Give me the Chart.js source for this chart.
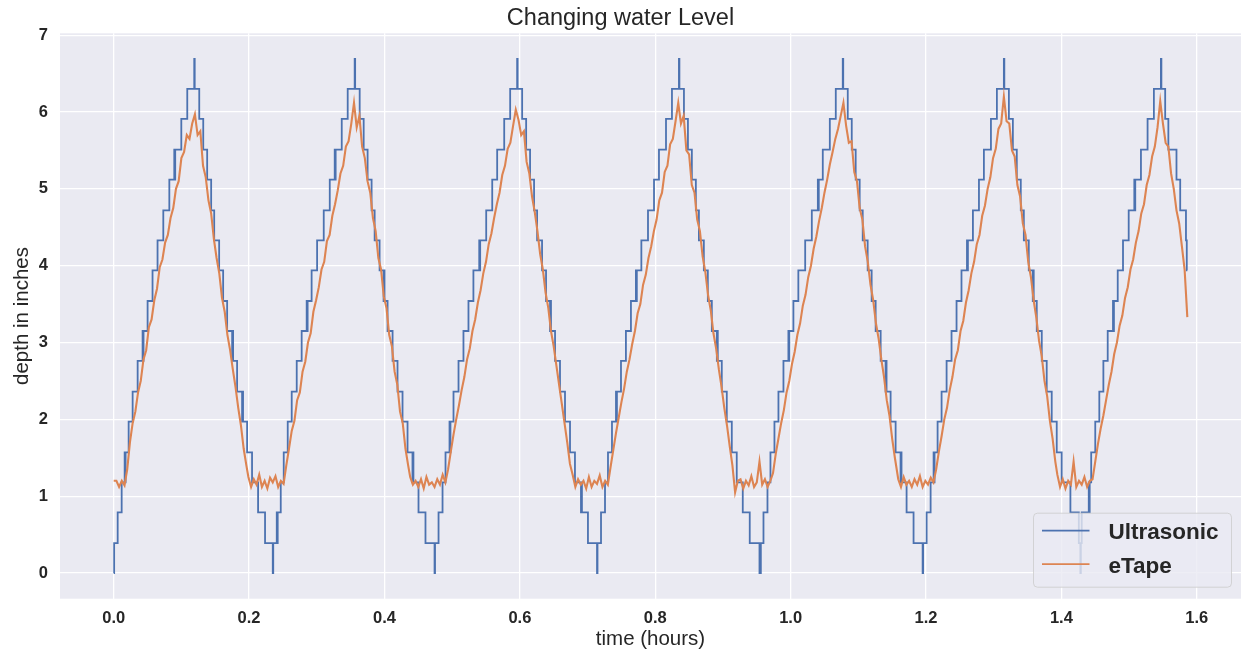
<!DOCTYPE html>
<html><head><meta charset="utf-8">
<script src="https://cdn.jsdelivr.net/npm/chart.js@4.4.0/dist/chart.umd.min.js"></script>
<style>html,body{margin:0;padding:0;background:#fff;}#wrap{width:1241px;height:653px;}</style>
</head><body><div id="wrap"><canvas id="c" width="1241" height="653"></canvas></div>
<script>
const chartTitle = 'Changing water Level';
const xAxisTitle = 'time (hours)';
const yAxisTitle = 'depth in inches';
const seriesNames = ['Ultrasonic', 'eTape'];
const xTickValues = [0.0, 0.2, 0.4, 0.6, 0.8, 1.0, 1.2, 1.4, 1.6];
const yTickValues = [0, 1, 2, 3, 4, 5, 6, 7];

// Ultrasonic readings: [time (h), depth (in)] — value holds until next reading
const ultrasonicCycle1 = [[0.0000,0],[0.0007,0.39],[0.0059,0.79],[0.0118,1.18],[0.0162,1.57],[0.0169,1.18],[0.0176,1.57],[0.0221,1.97],[0.0280,2.36],[0.0354,2.76],[0.0427,3.15],[0.0434,2.76],[0.0441,3.15],[0.0501,3.54],[0.0574,3.94],[0.0648,4.33],[0.0733,4.72],[0.0822,5.12],[0.0895,5.51],[0.0902,5.12],[0.0909,5.51],[0.0999,5.91],[0.1087,6.30],[0.1190,6.69],[0.1197,6.30],[0.1264,5.91],[0.1323,5.51],[0.1381,5.12],[0.1440,4.72],[0.1485,4.33],[0.1558,3.94],[0.1617,3.54],[0.1676,3.15],[0.1750,2.76],[0.1757,3.15],[0.1764,2.76],[0.1823,2.36],[0.1897,1.97],[0.1904,2.36],[0.1911,1.97],[0.1971,1.57],[0.2044,1.18],[0.2133,0.79],[0.2236,0.39]];
const ultrasonicCycle2 = [[0.2350,0],[0.2357,0.39],[0.2409,0.79],[0.2416,0.39],[0.2423,0.79],[0.2468,1.18],[0.2512,1.57],[0.2571,1.97],[0.2630,2.36],[0.2704,2.76],[0.2777,3.15],[0.2851,3.54],[0.2858,3.15],[0.2865,3.54],[0.2924,3.94],[0.3005,4.33],[0.3103,4.72],[0.3192,5.12],[0.3265,5.51],[0.3272,5.12],[0.3279,5.51],[0.3369,5.91],[0.3457,6.30],[0.3560,6.69],[0.3567,6.30],[0.3634,5.91],[0.3693,5.51],[0.3751,5.12],[0.3810,4.72],[0.3855,4.33],[0.3928,3.94],[0.3987,3.54],[0.3994,3.94],[0.4001,3.54],[0.4046,3.15],[0.4120,2.76],[0.4193,2.36],[0.4267,1.97],[0.4341,1.57],[0.4414,1.18],[0.4421,1.57],[0.4428,1.18],[0.4503,0.79],[0.4606,0.39]];
const ultrasonicCycle3 = [[0.4740,0],[0.4747,0.39],[0.4799,0.79],[0.4858,1.18],[0.4902,1.57],[0.4961,1.97],[0.4968,1.57],[0.4975,1.97],[0.5020,2.36],[0.5094,2.76],[0.5167,3.15],[0.5241,3.54],[0.5314,3.94],[0.5400,4.33],[0.5407,3.94],[0.5414,4.33],[0.5503,4.72],[0.5592,5.12],[0.5665,5.51],[0.5769,5.91],[0.5857,6.30],[0.5960,6.69],[0.5967,6.30],[0.6034,5.91],[0.6093,5.51],[0.6151,5.12],[0.6210,4.72],[0.6255,4.33],[0.6328,3.94],[0.6387,3.54],[0.6446,3.15],[0.6453,3.54],[0.6460,3.15],[0.6520,2.76],[0.6593,2.36],[0.6667,1.97],[0.6741,1.57],[0.6814,1.18],[0.6903,0.79],[0.6910,1.18],[0.6917,0.79],[0.7006,0.39]];
const ultrasonicCycle4 = [[0.7140,0],[0.7147,0.39],[0.7199,0.79],[0.7258,1.18],[0.7302,1.57],[0.7361,1.97],[0.7420,2.36],[0.7427,1.97],[0.7434,2.36],[0.7494,2.76],[0.7567,3.15],[0.7641,3.54],[0.7714,3.94],[0.7721,3.54],[0.7728,3.94],[0.7795,4.33],[0.7893,4.72],[0.7982,5.12],[0.8055,5.51],[0.8159,5.91],[0.8247,6.30],[0.8350,6.69],[0.8357,6.30],[0.8424,5.91],[0.8483,5.51],[0.8541,5.12],[0.8600,4.72],[0.8645,4.33],[0.8718,3.94],[0.8777,3.54],[0.8836,3.15],[0.8910,2.76],[0.8917,3.15],[0.8924,2.76],[0.8983,2.36],[0.9057,1.97],[0.9131,1.57],[0.9204,1.18],[0.9293,0.79],[0.9396,0.39]];
const ultrasonicCycle5 = [[0.9540,0],[0.9547,0.39],[0.9553,0],[0.9560,0.39],[0.9599,0.79],[0.9658,1.18],[0.9702,1.57],[0.9761,1.97],[0.9820,2.36],[0.9894,2.76],[0.9967,3.15],[0.9974,2.76],[0.9981,3.15],[1.0041,3.54],[1.0114,3.94],[1.0215,4.33],[1.0313,4.72],[1.0402,5.12],[1.0409,4.72],[1.0416,5.12],[1.0475,5.51],[1.0579,5.91],[1.0667,6.30],[1.0770,6.69],[1.0777,6.30],[1.0844,5.91],[1.0903,5.51],[1.0961,5.12],[1.1020,4.72],[1.1065,4.33],[1.1138,3.94],[1.1197,3.54],[1.1256,3.15],[1.1330,2.76],[1.1403,2.36],[1.1410,2.76],[1.1417,2.36],[1.1477,1.97],[1.1551,1.57],[1.1624,1.18],[1.1631,1.57],[1.1638,1.18],[1.1713,0.79],[1.1816,0.39]];
const ultrasonicCycle6 = [[1.1950,0],[1.1957,0.39],[1.2009,0.79],[1.2068,1.18],[1.2112,1.57],[1.2119,1.18],[1.2126,1.57],[1.2171,1.97],[1.2230,2.36],[1.2304,2.76],[1.2377,3.15],[1.2451,3.54],[1.2524,3.94],[1.2605,4.33],[1.2612,3.94],[1.2619,4.33],[1.2693,4.72],[1.2782,5.12],[1.2855,5.51],[1.2959,5.91],[1.3047,6.30],[1.3150,6.69],[1.3157,6.30],[1.3224,5.91],[1.3283,5.51],[1.3341,5.12],[1.3400,4.72],[1.3445,4.33],[1.3518,3.94],[1.3577,3.54],[1.3584,3.94],[1.3591,3.54],[1.3636,3.15],[1.3710,2.76],[1.3783,2.36],[1.3857,1.97],[1.3931,1.57],[1.4004,1.18],[1.4133,0.79],[1.4257,0.39]];
const ultrasonicCycle7 = [[1.4280,0],[1.4287,0.39],[1.4300,0.79],[1.4404,1.18],[1.4411,0.79],[1.4418,1.18],[1.4440,1.57],[1.4500,1.97],[1.4560,2.36],[1.4620,2.76],[1.4684,3.15],[1.4762,3.54],[1.4769,3.15],[1.4776,3.54],[1.4832,3.94],[1.4910,4.33],[1.4994,4.72],[1.5077,5.12],[1.5084,4.72],[1.5091,5.12],[1.5175,5.51],[1.5273,5.91],[1.5366,6.30],[1.5470,6.69],[1.5477,6.30],[1.5533,5.91],[1.5580,5.51],[1.5700,5.12],[1.5755,4.72],[1.5840,4.33],[1.5852,3.94],[1.5860,3.94]];

// eTape readings: one reading every eTapeSampleStep hours from each segment start
const eTapeSampleStep = 0.004;
const eTapeSegmentStart = [0.000, 0.199, 0.438, 0.678, 0.918, 1.159, 1.394];
const eTapeSegment1 = [1.20,1.20,1.12,1.20,1.14,1.35,1.70,1.95,2.10,2.35,2.50,2.78,2.90,3.20,3.30,3.55,3.70,3.98,4.08,4.30,4.40,4.62,4.75,5.00,5.10,5.40,5.48,5.70,5.65,5.85,5.97,5.70,5.75,5.30,5.15,4.85,4.68,4.35,4.10,3.90,3.58,3.40,3.10,2.90,2.65,2.42,2.15,1.92,1.62,1.40];
const eTapeSegment2 = [1.25,1.12,1.22,1.15,1.28,1.12,1.20,1.10,1.24,1.18,1.26,1.12,1.20,1.16,1.40,1.62,1.85,1.98,2.25,2.35,2.62,2.75,3.00,3.12,3.40,3.55,3.72,3.95,4.05,4.32,4.40,4.65,4.80,4.98,5.20,5.30,5.55,5.62,5.85,6.12,5.80,5.95,5.55,5.40,5.10,4.95,4.62,4.45,4.10,3.95,3.60,3.45,3.10,2.95,2.62,2.45,2.10,1.95,1.62,1.40];
const eTapeSegment3 = [1.25,1.15,1.20,1.12,1.22,1.10,1.25,1.15,1.18,1.12,1.22,1.15,1.28,1.18,1.35,1.58,1.80,2.00,2.18,2.38,2.55,2.78,2.92,3.15,3.30,3.52,3.68,3.90,4.05,4.28,4.42,4.62,4.80,4.95,5.18,5.30,5.52,5.60,5.82,6.03,5.90,5.70,5.75,5.35,5.20,4.90,4.70,4.45,4.15,3.95,3.65,3.45,3.15,2.95,2.70,2.45,2.20,1.95,1.70,1.42];
const eTapeSegment4 = [1.28,1.12,1.22,1.15,1.20,1.10,1.25,1.12,1.20,1.16,1.27,1.12,1.20,1.15,1.38,1.60,1.82,2.02,2.22,2.40,2.62,2.78,2.98,3.15,3.38,3.50,3.75,3.88,4.10,4.25,4.45,4.60,4.85,4.95,5.22,5.30,5.58,5.65,5.88,6.12,5.85,5.95,5.50,5.45,5.05,4.95,4.60,4.45,4.12,3.92,3.62,3.42,3.12,2.92,2.65,2.42,2.15,1.92,1.65,1.40];
const eTapeSegment5 = [1.05,1.20,1.22,1.10,1.20,1.14,1.26,1.12,1.18,1.45,1.15,1.22,1.12,1.20,1.30,1.55,1.75,1.95,2.12,2.35,2.50,2.72,2.88,3.10,3.25,3.48,3.62,3.85,4.00,4.22,4.38,4.58,4.75,4.95,5.12,5.32,5.48,5.65,5.78,5.95,6.12,5.82,5.60,5.62,5.22,5.10,4.75,4.60,4.25,4.05,3.75,3.55,3.25,3.05,2.78,2.55,2.25,2.05,1.75,1.50];
const eTapeSegment6 = [1.22,1.12,1.25,1.15,1.20,1.12,1.22,1.15,1.26,1.12,1.20,1.15,1.24,1.18,1.35,1.58,1.78,2.00,2.15,2.38,2.55,2.78,2.90,3.15,3.28,3.52,3.68,3.90,4.05,4.28,4.40,4.65,4.78,5.00,5.15,5.40,5.52,5.78,5.85,6.20,5.88,5.85,5.50,5.42,5.05,4.90,4.55,4.40,4.05,3.85,3.55,3.32,3.02,2.82,2.50,2.30,1.98,1.75,1.45];
const eTapeSegment7 = [1.28,1.12,1.22,1.10,1.20,1.15,1.45,1.12,1.20,1.15,1.25,1.12,1.20,1.22,1.45,1.68,1.88,2.05,2.25,2.45,2.62,2.85,3.00,3.22,3.35,3.58,3.72,3.95,4.08,4.30,4.45,4.68,4.80,5.05,5.18,5.42,5.55,5.80,6.14,5.85,5.60,5.55,5.20,5.00,4.72,4.55,4.25,3.95,3.33];

const seriesColors = {Ultrasonic: '#4C72B0', eTape: '#DD8452'};

const ultrasonicPoints = [ultrasonicCycle1, ultrasonicCycle2, ultrasonicCycle3, ultrasonicCycle4, ultrasonicCycle5, ultrasonicCycle6, ultrasonicCycle7]
  .flat().map(([t, d]) => ({x: t, y: d}));
const eTapeSegments = [eTapeSegment1, eTapeSegment2, eTapeSegment3, eTapeSegment4, eTapeSegment5, eTapeSegment6, eTapeSegment7];
const eTapePoints = [];
eTapeSegments.forEach((seg, k) => seg.forEach((v, i) => eTapePoints.push({x: +(eTapeSegmentStart[k] + i * eTapeSampleStep).toFixed(4), y: v})));

// axis limits: data range plus 5% margins
const xMin = -0.0793, xMax = 1.6653, yMin = -0.3345, yMax = 7.0245;

const FONT = "'Liberation Sans', Arial, sans-serif";
const TEXT = '#262626';

const bgPlugin = {
  id: 'bg',
  beforeDraw(chart) {
    const {ctx, chartArea: a} = chart;
    ctx.save();
    ctx.fillStyle = '#ffffff';
    ctx.fillRect(0, 0, chart.width, chart.height);
    ctx.fillStyle = '#EAEAF2';
    ctx.fillRect(a.left, a.top, a.right - a.left, a.bottom - a.top);
    ctx.restore();
  }
};

const legendPlugin = {
  id: 'innerLegend',
  afterDraw(chart) {
    const {ctx, chartArea: a} = chart;
    const w = 198, h = 74;
    const x = a.right - 9.5 - w, y = a.bottom - 11.5 - h;
    ctx.save();
    ctx.beginPath();
    ctx.roundRect(x, y, w, h, 4);
    ctx.fillStyle = 'rgba(234,234,242,0.8)';
    ctx.fill();
    ctx.strokeStyle = 'rgba(204,204,204,0.8)';
    ctx.lineWidth = 1;
    ctx.stroke();
    ctx.font = 'bold 22.5px ' + FONT;
    ctx.textBaseline = 'alphabetic';
    ctx.textAlign = 'left';
    seriesNames.forEach((name, i) => {
      const ly = y + 17.5 + i * 33.5;
      ctx.beginPath();
      ctx.moveTo(x + 8.5, ly);
      ctx.lineTo(x + 56, ly);
      ctx.strokeStyle = seriesColors[name];
      ctx.lineWidth = 1.8;
      ctx.stroke();
      ctx.fillStyle = TEXT;
      ctx.fillText(name, x + 75, ly + 8.3);
    });
    ctx.restore();
  }
};

new Chart(document.getElementById('c'), {
  type: 'line',
  data: {
    datasets: [
      {label: seriesNames[1], data: eTapePoints, borderColor: seriesColors.eTape, borderWidth: 2.1, pointRadius: 0, tension: 0, fill: false, order: 0},
      {label: seriesNames[0], data: ultrasonicPoints, borderColor: seriesColors.Ultrasonic, borderWidth: 1.8, pointRadius: 0, stepped: true, fill: false, order: 1}
    ]
  },
  options: {
    responsive: false,
    animation: false,
    devicePixelRatio: 1,
    layout: {padding: 0},
    plugins: {
      legend: {display: false},
      tooltip: {enabled: false},
      title: {display: true, text: chartTitle, color: TEXT, font: {family: FONT, size: 23.5, weight: 'normal', lineHeight: 1.2}, padding: {top: 4.5, bottom: 0.6}}
    },
    scales: {
      x: {
        type: 'linear', min: xMin, max: xMax,
        afterBuildTicks(scale) { scale.ticks = xTickValues.map(v => ({value: v})); },
        afterFit(scale) { scale.height = 54.3; },
        ticks: {callback: v => v.toFixed(1), color: TEXT, font: {family: FONT, size: 16.5, weight: 'bold'}, padding: 10, maxRotation: 0, autoSkip: false},
        grid: {color: '#ffffff', lineWidth: 1.3, drawTicks: false},
        border: {display: false},
        title: {display: true, text: xAxisTitle, color: TEXT, font: {family: FONT, size: 20.5, weight: 'normal', lineHeight: 1.2}, padding: {top: 0, bottom: 1}}
      },
      y: {
        type: 'linear', min: yMin, max: yMax,
        afterBuildTicks(scale) { scale.ticks = yTickValues.map(v => ({value: v})); },
        afterFit(scale) { scale.width = 60; },
        ticks: {callback: v => v.toFixed(0), color: TEXT, font: {family: FONT, size: 16.5, weight: 'bold'}, padding: 12, autoSkip: false},
        grid: {color: '#ffffff', lineWidth: 1.3, drawTicks: false},
        border: {display: false},
        title: {display: true, text: yAxisTitle, color: TEXT, font: {family: FONT, size: 20.5, weight: 'normal', lineHeight: 1.2}, padding: {top: 10, bottom: 0}}
      }
    }
  },
  plugins: [bgPlugin, legendPlugin]
});
</script>
</body></html>
